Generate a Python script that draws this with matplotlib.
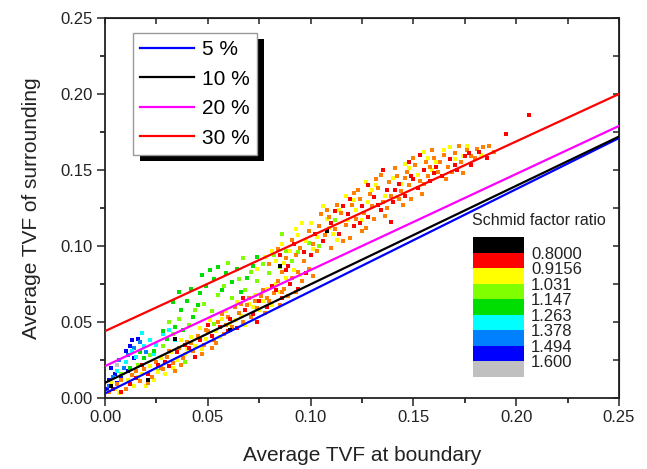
import matplotlib
matplotlib.use("Agg")
import matplotlib.pyplot as plt
from matplotlib.colors import ListedColormap, BoundaryNorm
from matplotlib.colorbar import ColorbarBase
from matplotlib.patches import Rectangle
from matplotlib.ticker import MultipleLocator, FormatStrFormatter

plt.rcParams['font.family'] = ['Liberation Sans', 'DejaVu Sans']

# fitted lines: (label, colour, intercept at x=0, value at x=0.25)
line_labels = ["5 %", "10 %", "20 %", "30 %"]
line_colors = ["#0000ff", "#000000", "#ff00ff", "#ff0000"]
line_start = [0.003, 0.010, 0.021, 0.044]
line_end = [0.171, 0.172, 0.179, 0.200]
line_x = [0.0, 0.25]

# scatter points, grouped by Schmid factor ratio colour
pts_red = [(0.004, 0.006), (0.008, 0.004), (0.012, 0.009), (0.015, 0.013), (0.021, 0.016), (0.026, 0.022),
           (0.031, 0.021), (0.035, 0.030), (0.041, 0.033), (0.046, 0.038), (0.052, 0.041), (0.056, 0.047),
           (0.061, 0.052), (0.064, 0.046), (0.068, 0.058), (0.072, 0.055), (0.075, 0.064), (0.079, 0.060),
           (0.083, 0.071), (0.086, 0.066), (0.090, 0.075), (0.094, 0.072), (0.098, 0.082),
           (0.018, 0.022), (0.029, 0.024), (0.039, 0.035), (0.044, 0.027), (0.050, 0.048), (0.060, 0.044),
           (0.067, 0.066), (0.074, 0.050), (0.081, 0.074), (0.088, 0.084),
           (0.085, 0.094), (0.092, 0.101), (0.097, 0.096), (0.102, 0.108), (0.106, 0.103), (0.110, 0.115),
           (0.114, 0.108), (0.118, 0.121), (0.121, 0.113), (0.125, 0.126), (0.128, 0.119), (0.131, 0.132),
           (0.134, 0.124), (0.137, 0.137), (0.140, 0.129), (0.143, 0.141), (0.146, 0.133), (0.149, 0.146),
           (0.152, 0.138), (0.155, 0.150), (0.158, 0.143), (0.161, 0.152), (0.164, 0.146), (0.168, 0.157),
           (0.171, 0.150), (0.175, 0.159), (0.178, 0.153), (0.182, 0.162), (0.186, 0.158), (0.195, 0.174),
           (0.206, 0.186), (0.128, 0.140), (0.139, 0.116), (0.116, 0.126), (0.148, 0.155),
           (0.089, 0.087), (0.100, 0.094), (0.112, 0.123), (0.119, 0.131), (0.124, 0.115), (0.133, 0.127),
           (0.141, 0.137), (0.150, 0.144), (0.160, 0.148), (0.170, 0.153), (0.177, 0.161), (0.153, 0.160),
           (0.135, 0.150)]
pts_orange = [(0.002, 0.004), (0.006, 0.009), (0.010, 0.006), (0.013, 0.015), (0.017, 0.011), (0.019, 0.019),
              (0.023, 0.014), (0.025, 0.024), (0.028, 0.019), (0.030, 0.027), (0.033, 0.023), (0.036, 0.033),
              (0.038, 0.026), (0.040, 0.037), (0.043, 0.031), (0.045, 0.041), (0.048, 0.035), (0.050, 0.044),
              (0.053, 0.038), (0.055, 0.050), (0.058, 0.042), (0.060, 0.053), (0.062, 0.047), (0.065, 0.056),
              (0.067, 0.050), (0.069, 0.061), (0.071, 0.053), (0.074, 0.059), (0.076, 0.067), (0.078, 0.056),
              (0.080, 0.064), (0.082, 0.069), (0.085, 0.061), (0.087, 0.072), (0.089, 0.067), (0.091, 0.079),
              (0.093, 0.070), (0.096, 0.077), (0.099, 0.085), (0.101, 0.080), (0.057, 0.055), (0.063, 0.060),
              (0.070, 0.066), (0.077, 0.071), (0.084, 0.077), (0.047, 0.029), (0.034, 0.018), (0.052, 0.033),
              (0.008, 0.012), (0.015, 0.018), (0.021, 0.010), (0.027, 0.020), (0.031, 0.031), (0.037, 0.022),
              (0.042, 0.036), (0.049, 0.045), (0.054, 0.036), (0.059, 0.048), (0.066, 0.062), (0.073, 0.064),
              (0.079, 0.066), (0.086, 0.070), (0.094, 0.083),
              (0.080, 0.088), (0.084, 0.098), (0.088, 0.092), (0.091, 0.104), (0.095, 0.099), (0.099, 0.110),
              (0.101, 0.101), (0.104, 0.113), (0.107, 0.107), (0.109, 0.119), (0.112, 0.111), (0.115, 0.122),
              (0.117, 0.114), (0.120, 0.127), (0.122, 0.118), (0.124, 0.131), (0.126, 0.122), (0.129, 0.134),
              (0.130, 0.126), (0.133, 0.138), (0.135, 0.129), (0.138, 0.142), (0.139, 0.133), (0.142, 0.146),
              (0.144, 0.136), (0.147, 0.149), (0.148, 0.140), (0.151, 0.153), (0.153, 0.143), (0.156, 0.155),
              (0.157, 0.146), (0.160, 0.158), (0.162, 0.149), (0.165, 0.160), (0.167, 0.152), (0.170, 0.161),
              (0.173, 0.155), (0.176, 0.163), (0.180, 0.158), (0.184, 0.165), (0.189, 0.162), (0.110, 0.099),
              (0.119, 0.105), (0.127, 0.112), (0.136, 0.120), (0.145, 0.127), (0.154, 0.134), (0.113, 0.127),
              (0.123, 0.137), (0.132, 0.144), (0.141, 0.151), (0.150, 0.158), (0.159, 0.163), (0.097, 0.090),
              (0.105, 0.121), (0.143, 0.131), (0.166, 0.144), (0.174, 0.148),
              (0.086, 0.083), (0.093, 0.094), (0.103, 0.097), (0.108, 0.124), (0.116, 0.103), (0.121, 0.135),
              (0.131, 0.118), (0.134, 0.147), (0.146, 0.145), (0.149, 0.131), (0.155, 0.141), (0.158, 0.152),
              (0.163, 0.155), (0.169, 0.149), (0.172, 0.166), (0.178, 0.159), (0.181, 0.164), (0.187, 0.166),
              (0.125, 0.110), (0.137, 0.125)]
pts_yellow = [(0.003, 0.010), (0.007, 0.003), (0.011, 0.012), (0.014, 0.008), (0.018, 0.016), (0.022, 0.021),
              (0.024, 0.012), (0.027, 0.026), (0.029, 0.016), (0.032, 0.030), (0.035, 0.025), (0.037, 0.038),
              (0.039, 0.029), (0.042, 0.040), (0.044, 0.034), (0.046, 0.046), (0.049, 0.039), (0.051, 0.051),
              (0.054, 0.044), (0.056, 0.040), (0.059, 0.057), (0.061, 0.049), (0.064, 0.063), (0.066, 0.054),
              (0.068, 0.048), (0.070, 0.062), (0.073, 0.068), (0.075, 0.058), (0.079, 0.072), (0.081, 0.061),
              (0.083, 0.075), (0.088, 0.079), (0.092, 0.084), (0.095, 0.081),
              (0.005, 0.006), (0.016, 0.014), (0.020, 0.008), (0.026, 0.017), (0.033, 0.020), (0.040, 0.032),
              (0.047, 0.032), (0.057, 0.052), (0.063, 0.051), (0.072, 0.060), (0.077, 0.064), (0.085, 0.070),
              (0.078, 0.093), (0.083, 0.090), (0.086, 0.101), (0.090, 0.097), (0.094, 0.107), (0.098, 0.103),
              (0.100, 0.115), (0.103, 0.106), (0.108, 0.118), (0.111, 0.108), (0.114, 0.124), (0.118, 0.117),
              (0.121, 0.130), (0.125, 0.117), (0.128, 0.129), (0.132, 0.140), (0.136, 0.133), (0.140, 0.145),
              (0.144, 0.141), (0.148, 0.151), (0.152, 0.147), (0.157, 0.158), (0.161, 0.155), (0.165, 0.163),
              (0.170, 0.157), (0.176, 0.166), (0.183, 0.160), (0.106, 0.126), (0.117, 0.133), (0.127, 0.142),
              (0.096, 0.115), (0.155, 0.162),
              (0.074, 0.085), (0.081, 0.097), (0.087, 0.089), (0.093, 0.111), (0.101, 0.098), (0.109, 0.112),
              (0.113, 0.104), (0.122, 0.124), (0.130, 0.137), (0.142, 0.132), (0.146, 0.154), (0.159, 0.150),
              (0.168, 0.165), (0.174, 0.159)]
pts_ygreen = [(0.008, 0.016), (0.016, 0.022), (0.022, 0.028), (0.028, 0.034), (0.033, 0.042), (0.036, 0.052),
              (0.041, 0.048), (0.044, 0.058), (0.048, 0.062), (0.052, 0.057), (0.055, 0.068), (0.058, 0.074),
              (0.062, 0.066), (0.065, 0.078), (0.068, 0.071), (0.071, 0.083), (0.074, 0.077), (0.077, 0.088),
              (0.080, 0.082), (0.082, 0.094), (0.085, 0.086), (0.088, 0.097), (0.091, 0.090), (0.094, 0.096),
              (0.099, 0.102), (0.104, 0.100), (0.112, 0.117), (0.026, 0.018), (0.039, 0.024), (0.053, 0.049),
              (0.060, 0.089), (0.067, 0.092), (0.086, 0.108), (0.031, 0.050)]
pts_green = [(0.012, 0.020), (0.019, 0.026), (0.024, 0.031), (0.030, 0.039), (0.034, 0.047), (0.037, 0.058),
             (0.040, 0.064), (0.043, 0.053), (0.046, 0.069), (0.047, 0.081), (0.049, 0.074), (0.051, 0.084),
             (0.053, 0.078), (0.055, 0.086), (0.057, 0.071), (0.059, 0.082), (0.062, 0.076), (0.064, 0.085),
             (0.066, 0.070), (0.069, 0.079), (0.072, 0.087), (0.033, 0.063), (0.038, 0.045), (0.042, 0.072),
             (0.045, 0.061), (0.028, 0.044), (0.017, 0.030), (0.074, 0.093), (0.036, 0.070)]
pts_cyan = [(0.010, 0.024), (0.015, 0.027), (0.019, 0.034), (0.022, 0.038), (0.025, 0.035), (0.028, 0.042),
            (0.031, 0.045), (0.018, 0.043), (0.006, 0.018), (0.013, 0.031), (0.024, 0.029), (0.034, 0.038)]
pts_lblue = [(0.004, 0.014), (0.009, 0.020), (0.011, 0.028), (0.014, 0.033), (0.017, 0.037), (0.007, 0.025),
             (0.020, 0.030), (0.002, 0.008)]
pts_blue = [(0.002, 0.012), (0.005, 0.016), (0.008, 0.013), (0.010, 0.031), (0.012, 0.034), (0.014, 0.026),
            (0.016, 0.039), (0.003, 0.020), (0.006, 0.010), (0.011, 0.018), (0.001, 0.006), (0.013, 0.038)]
pts_black = [(0.003, 0.008), (0.034, 0.039), (0.085, 0.087), (0.108, 0.110), (0.021, 0.012), (0.061, 0.045)]
pts_gray = [(0.016, 0.039), (0.006, 0.022)]

# colour key
key_colors = ["#000000", "#ff0000", "#ffff00", "#80ff00", "#00dd00", "#00ffff", "#0080ff", "#0000ff", "#c0c0c0"]
key_labels = ["0.8000", "0.9156", "1.031", "1.147", "1.263", "1.378", "1.494", "1.600"]

groups = [(pts_gray, "#c0c0c0"), (pts_blue, "#0000ff"), (pts_lblue, "#0080ff"), (pts_cyan, "#00ffff"),
          (pts_green, "#00dd00"), (pts_ygreen, "#80ff00"), (pts_yellow, "#ffff00"), (pts_orange, "#ff8000"),
          (pts_red, "#ff0000"), (pts_black, "#000000")]

W, H = 647, 469
fig = plt.figure(figsize=(W / 100, H / 100), dpi=100)
ax = fig.add_axes([105 / W, 1 - 398 / H, 514 / W, 380 / H])

for pts, col in groups:
    xs = [p[0] for p in pts]
    ys = [p[1] for p in pts]
    ax.scatter(xs, ys, s=8, marker='s', color=col, linewidths=0, zorder=2)

handles = []
for lab, col, y0, y1 in zip(line_labels, line_colors, line_start, line_end):
    h, = ax.plot(line_x, [y0, y1], color=col, lw=1.6, label=lab, zorder=3)
    handles.append(h)

ax.set_xlim(0, 0.25)
ax.set_ylim(0, 0.25)
ax.xaxis.set_major_locator(MultipleLocator(0.05))
ax.yaxis.set_major_locator(MultipleLocator(0.05))
ax.xaxis.set_minor_locator(MultipleLocator(0.025))
ax.yaxis.set_minor_locator(MultipleLocator(0.025))
ax.xaxis.set_major_formatter(FormatStrFormatter('%.2f'))
ax.yaxis.set_major_formatter(FormatStrFormatter('%.2f'))
ax.tick_params(which='major', direction='out', length=5.5, width=1.1, labelsize=12, colors='#222222')
ax.tick_params(which='minor', direction='out', length=3.5, width=1.1)
for sp in ax.spines.values():
    sp.set_linewidth(1.3)
    sp.set_color('#222222')

# inward ticks on the top and right edges
top = ax.secondary_xaxis('top')
top.xaxis.set_major_locator(MultipleLocator(0.025))
top.tick_params(direction='in', length=4, width=1.1, labeltop=False, colors='#222222')
right = ax.secondary_yaxis('right')
right.yaxis.set_major_locator(MultipleLocator(0.025))
right.tick_params(direction='in', length=4, width=1.1, labelright=False, colors='#222222')

ax.set_xlabel("Average TVF at boundary", fontsize=15, labelpad=15, color='#222222')
ax.set_ylabel("Average TVF of surrounding", fontsize=15, labelpad=14, color='#222222')

leg = ax.legend(handles=handles, loc='upper left', bbox_to_anchor=((133 - 105) / 514, (398 - 33) / 380),
                fontsize=15, frameon=True, fancybox=False, framealpha=1, facecolor='white',
                borderaxespad=0, borderpad=0.35, handlelength=2.6, handletextpad=0.35, labelspacing=0.5)
leg.get_frame().set_edgecolor('#999999')
leg.get_frame().set_linewidth(1.0)
leg.set_zorder(6)

# black drop shadow behind the legend box
fig.canvas.draw()
bb = leg.get_window_extent().transformed(ax.transAxes.inverted())
ax.add_patch(Rectangle((bb.x0 + 7 / 514, bb.y0 - 6 / 380), bb.width, bb.height, transform=ax.transAxes,
                       facecolor='black', edgecolor='none', zorder=5, clip_on=False))

# discrete colour key
cax = fig.add_axes([473 / W, 1 - 377 / H, 51 / W, 140 / H])
ColorbarBase(cax, cmap=ListedColormap(key_colors[::-1]), norm=BoundaryNorm(range(10), 9),
             orientation='vertical', ticks=list(range(1, 9)))
cax.set_yticklabels(key_labels[::-1])
cax.minorticks_off()
cax.tick_params(which='both', length=0, labelsize=12, pad=5, colors='#222222')
cax.set_frame_on(False)
fig.text(472 / W, 1 - 220 / H, "Schmid factor ratio", fontsize=11.5, va='center', ha='left', color='#222222')

fig.savefig("out.png", dpi=100)
